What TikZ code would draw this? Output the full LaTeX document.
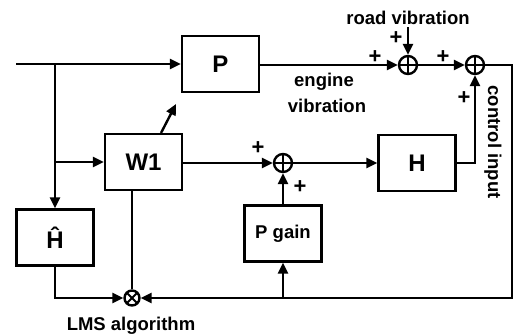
\documentclass[tikz,border=0pt]{standalone}
\usepackage{fontspec}
\setmainfont{Liberation Sans}
\usetikzlibrary{arrows.meta}
\begin{document}
\begin{tikzpicture}[x=1pt,y=-1pt,
  line width=2.4pt,
  >={Triangle[length=11pt,width=10pt]},
  blk/.style={draw, minimum width=77pt, minimum height=56pt, inner sep=0pt,
    font=\fontsize{24}{24}\bfseries\selectfont},
  sumnode/.style={draw, circle, fill=white, minimum size=18pt, inner sep=0pt,
    path picture={\draw[line width=2.2pt]
      (path picture bounding box.north) -- (path picture bounding box.south)
      (path picture bounding box.west) -- (path picture bounding box.east);}},
  mulnode/.style={draw, circle, fill=white, minimum size=15pt, inner sep=0pt,
    path picture={\draw[line width=2pt]
      (path picture bounding box.north west) -- (path picture bounding box.south east)
      (path picture bounding box.south west) -- (path picture bounding box.north east);}},
  lbl/.style={font=\fontsize{18.5}{20}\bfseries\selectfont, inner sep=0pt},
  pls/.style={font=\fontsize{22}{22}\bfseries\selectfont, inner sep=0pt},
]
\useasboundingbox (0,0) rectangle (514,335);

% blocks
\node[blk] (P) at (220.5,64) {P};
\node[blk] (W) at (143.5,162) {W1};
\node[blk] (Hh) at (55,237.5) {\^{H}};
\node[blk] (Pg) at (283,233.5) {\fontsize{18.5}{20}\selectfont P gain};
\node[blk] (H) at (417,163) {H};

% summing junctions
\node[sumnode] (s1) at (408,65) {};
\node[sumnode] (s2) at (475,65) {};
\node[sumnode] (s3) at (283,163) {};
\node[mulnode] (m) at (132,298) {};

% coordinates
\coordinate (in) at (16,64);
\coordinate (br) at (55,64);
\coordinate (rv) at (408,27);
\coordinate (wa) at (161,133);
\coordinate (wb) at (176,104);
\coordinate (rc) at (512,65);
\coordinate (rb) at (512,298);
\coordinate (fb) at (283,298);

% connectors
\draw[->] (in) -- (P.west);
\draw[->] (br) -- (Hh.north);
\draw[->] (br |- W.west) -- (W.west);
\draw[->] (P.east |- s1.west) -- (s1.west);
\draw[->] (rv) -- (s1.north);
\draw[->] (s1.east) -- (s2.west);
\draw (s2.east) -- (rc) -- (rb) -- (fb);
\draw[->] (fb) -- (m.east);
\draw[->] (fb) -- (Pg.south);
\draw[->] (Hh.south) |- (m.west);
\draw (m.north) -- (m.north |- W.south);
\draw[->] (wa) -- (wb);
\draw[->] (W.east |- s3.west) -- (s3.west);
\draw[->] (Pg.north) -- (s3.south);
\draw[->] (s3.east) -- (H.west);
\draw[->] (H.east) -| (s2.south);

% labels
\node[lbl] (t1) at (408,18) {road vibration};
\node[lbl] (t2) at (324,82) {engine};
\node[lbl] (t3) at (327,106) {vibration};
\node[lbl, rotate=-90] (t4) at (493,142) {control input};
\node[lbl] (t5) at (131,326) {LMS algorithm};

% plus signs
\node[pls] (p1) at (396,38) {+};
\node[pls] (p2) at (375,57) {+};
\node[pls] (p3) at (443,57) {+};
\node[pls] (p4) at (464,98) {+};
\node[pls] (p5) at (258,148) {+};
\node[pls] (p6) at (300,187) {+};
\end{tikzpicture}
\end{document}
